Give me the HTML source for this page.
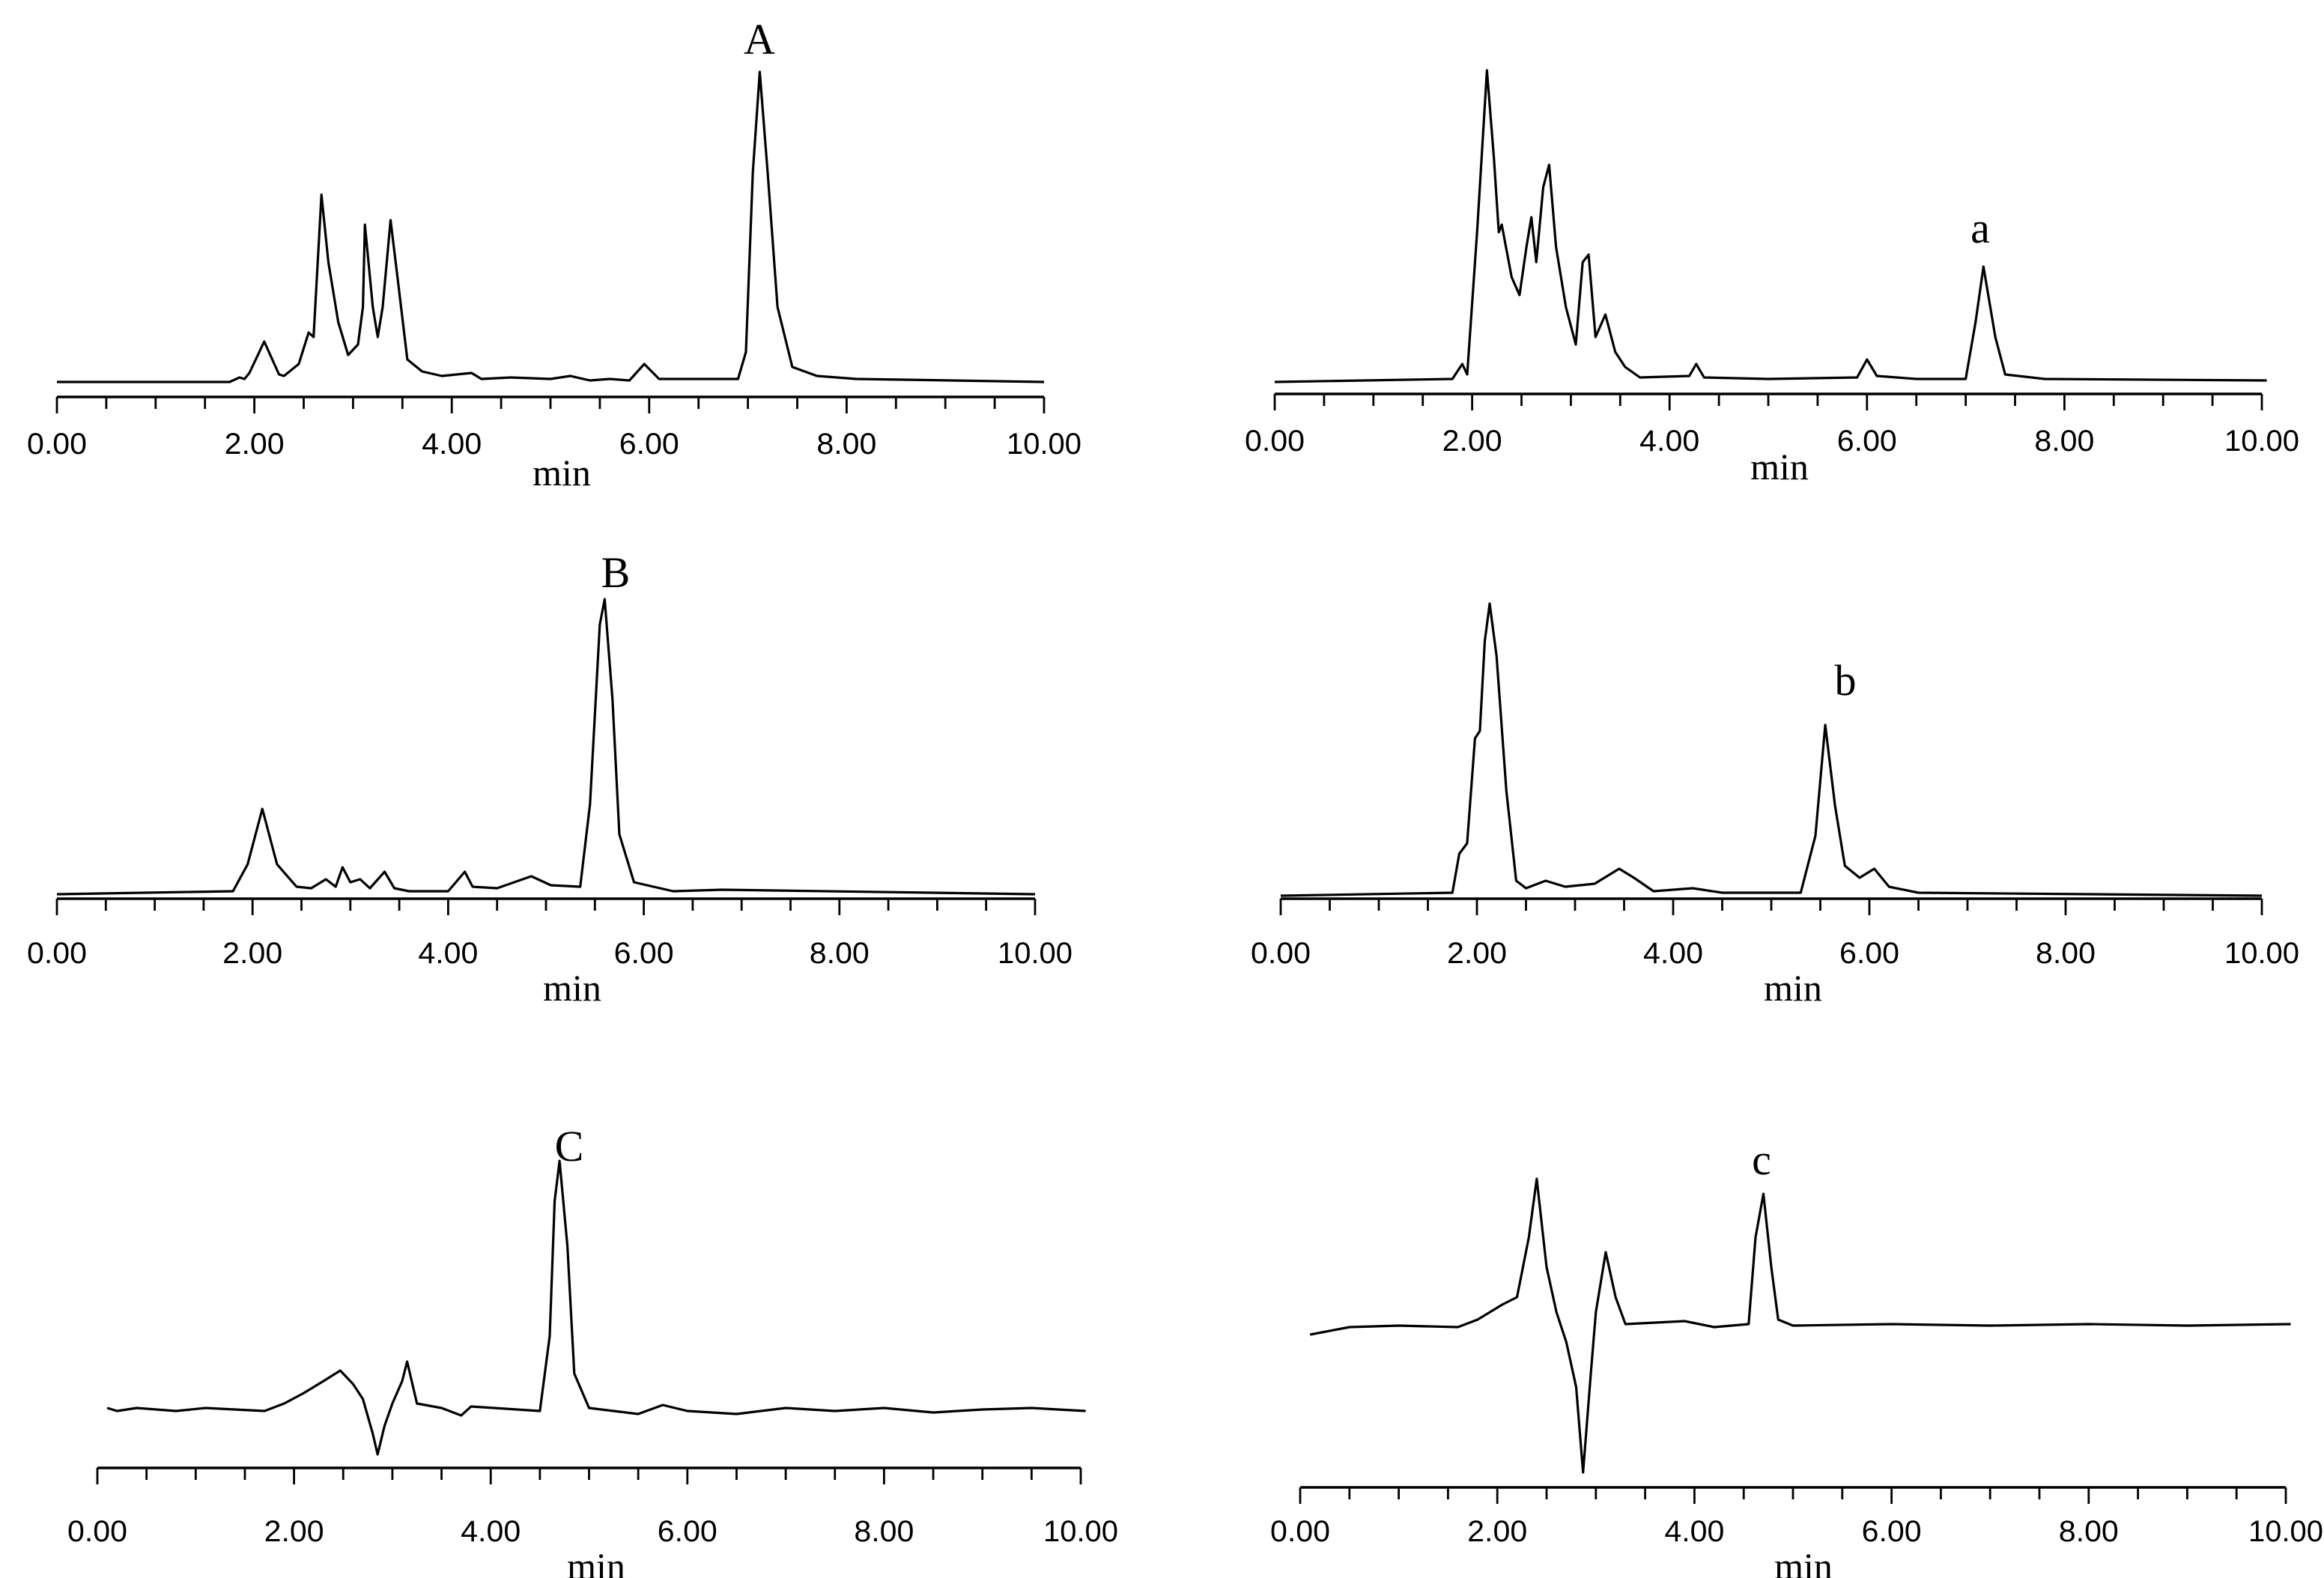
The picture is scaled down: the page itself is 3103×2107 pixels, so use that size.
<!DOCTYPE html>
<html><head><meta charset="utf-8"><style>
html,body{margin:0;padding:0;background:#fff;}
svg{display:block;}
.tick{font-family:"Liberation Sans",sans-serif;font-size:20px;fill:#000;}
.unit{font-family:"Liberation Serif",serif;font-size:25px;fill:#000;}
.lab{font-family:"Liberation Serif",serif;font-size:29px;fill:#000;}
</style></head><body>
<svg id="chart" width="3103" height="2107" viewBox="0 0 1551.5 1053.5" xmlns="http://www.w3.org/2000/svg"></svg>
<script>
const tickLabels = ["0.00","2.00","4.00","6.00","8.00","10.00"];
const panelA_t = [0,1.75,1.85,1.9,1.95,2.1,2.25,2.3,2.45,2.55,2.6,2.68,2.75,2.85,2.95,3.05,3.1,3.12,3.2,3.25,3.3,3.38,3.45,3.55,3.7,3.9,4.2,4.3,4.6,5.0,5.2,5.4,5.6,5.8,5.95,6.1,6.9,6.98,7.05,7.12,7.2,7.3,7.45,7.7,8.1,10];
const panelA_v = [0,0,3,2,6,27,5,4,12,33,30,125,80,40,18,25,50,105,50,30,50,108,70,15,7,4,6,2,3,2,4,1,2,1,12,2,2,20,140,207,140,50,10,4,2,0];
const panela_t = [0,1.8,1.9,1.95,2.05,2.15,2.22,2.27,2.3,2.4,2.48,2.55,2.6,2.65,2.72,2.78,2.85,2.95,3.05,3.12,3.18,3.25,3.35,3.45,3.55,3.7,4.2,4.27,4.35,5.0,5.9,6.0,6.1,6.5,7.0,7.1,7.18,7.3,7.4,7.8,10.05];
const panela_v = [0,2,12,5,100,208,150,100,105,70,58,90,110,80,130,145,90,50,25,80,85,30,45,20,10,3,4,12,3,2,3,15,4,2,2,40,77,30,5,2,1];
const panelB_t = [0,1.8,1.95,2.1,2.25,2.45,2.6,2.75,2.85,2.92,3.0,3.1,3.2,3.35,3.45,3.6,4.0,4.17,4.25,4.5,4.85,5.05,5.35,5.45,5.55,5.6,5.68,5.75,5.9,6.3,6.8,10];
const panelB_v = [0,2,20,57,20,5,4,10,5,18,8,10,4,15,4,2,2,15,5,4,12,6,5,60,180,197,130,40,8,2,3,0];
const panelb_t = [0,1.75,1.82,1.9,1.98,2.03,2.08,2.13,2.2,2.3,2.4,2.5,2.7,2.9,3.2,3.45,3.6,3.8,4.2,4.5,5.3,5.45,5.55,5.65,5.75,5.9,6.05,6.2,6.5,10];
const panelb_v = [0,2,28,35,105,110,170,195,160,70,10,5,10,6,8,18,12,3,5,2,2,40,114,60,20,12,18,6,2,0];
const panelC_t = [0.1,0.2,0.4,0.8,1.1,1.7,1.9,2.1,2.3,2.47,2.6,2.7,2.8,2.85,2.92,3.0,3.1,3.15,3.25,3.5,3.7,3.8,4.5,4.6,4.65,4.7,4.78,4.85,5.0,5.5,5.75,6.0,6.5,7.0,7.5,8.0,8.5,9.0,9.5,10.05];
const panelC_v = [2,0,2,0,2,0,5,12,20,27,18,8,-15,-29,-10,5,20,33,5,2,-3,3,0,50,140,167,110,25,2,-2,4,0,-2,2,0,2,-1,1,2,0];
const panelc_t = [0.1,0.5,1.0,1.6,1.8,2.05,2.2,2.32,2.4,2.5,2.6,2.7,2.8,2.87,2.95,3.0,3.1,3.2,3.3,3.9,4.2,4.55,4.62,4.7,4.78,4.85,5.0,6.0,7.0,8.0,9.0,10.05];
const panelc_v = [-5,0,1,0,5,15,20,60,99,40,10,-10,-40,-97,-30,10,50,20,2,4,0,2,60,89,40,5,1,2,1,2,1,2];

const panels = [
 {id:'A',t:panelA_t,v:panelA_v,x0:38,x1:697,axisY:265,base:255,lab:'A',lx:507,ly:36,tickY:303,unitX:375,unitY:324},
 {id:'a',t:panela_t,v:panela_v,x0:851,x1:1510,axisY:263,base:255,lab:'a',lx:1322,ly:162,tickY:301,unitX:1188,unitY:320},
 {id:'B',t:panelB_t,v:panelB_v,x0:38,x1:691,axisY:600,base:597,lab:'B',lx:411,ly:392,tickY:643,unitX:382,unitY:668},
 {id:'b',t:panelb_t,v:panelb_v,x0:855,x1:1510,axisY:600,base:598,lab:'b',lx:1232,ly:464,tickY:643,unitX:1197,unitY:668},
 {id:'C',t:panelC_t,v:panelC_v,x0:65,x1:721.5,axisY:980,base:942,lab:'C',lx:380,ly:775,tickY:1029,unitX:398,unitY:1054},
 {id:'c',t:panelc_t,v:panelc_v,x0:868,x1:1526,axisY:993,base:886,lab:'c',lx:1176,ly:784,tickY:1029,unitX:1204,unitY:1054}
];
const svg = document.getElementById('chart');
const NS = 'http://www.w3.org/2000/svg';
function mk(tag, attrs){const e=document.createElementNS(NS,tag);for(const k in attrs)e.setAttribute(k,attrs[k]);return e;}
panels.forEach(p=>{
  const g = mk('g',{});
  
  
  svg.appendChild(g);
  const xs = t => p.x0 + (p.x1-p.x0)*t/10;
  const ys = v => p.base - v;
  const ax = mk('line',{x1:p.x0,x2:p.x1,y1:p.axisY,y2:p.axisY,stroke:'#000','stroke-width':1.8});
  
  
  g.appendChild(ax);
  for(let i=0;i<=20;i++){
    const tk = mk('line',{x1:xs(i*0.5),x2:xs(i*0.5),y1:p.axisY,y2:p.axisY+(i%4===0?11:8),stroke:'#000','stroke-width':1.4});
    
    
    g.appendChild(tk);
  }
  tickLabels.forEach((s,i)=>{
    const tx = mk('text',{x:xs(i*2),y:p.tickY,'text-anchor':'middle',class:'tick',textLength:s.length*10,lengthAdjust:'spacingAndGlyphs'});
    tx.textContent = s;
    
    
    g.appendChild(tx);
  });
  const u = mk('text',{x:p.unitX,y:p.unitY,'text-anchor':'middle',class:'unit'});
  u.textContent='min';
  
  
  g.appendChild(u);
  const l = mk('text',{x:p.lx,y:p.ly,'text-anchor':'middle',class:'lab'});
  l.textContent=p.lab;
  
  
  g.appendChild(l);
  const d = p.t.map((t,i)=>(i?'L':'M')+xs(t).toFixed(2)+' '+ys(p.v[i]).toFixed(2)).join(' ');
  const path = mk('path',{d:d,fill:'none',stroke:'#000','stroke-width':1.6,'stroke-linejoin':'round'});
  
  
  g.appendChild(path);
});
</script>
</body></html>
